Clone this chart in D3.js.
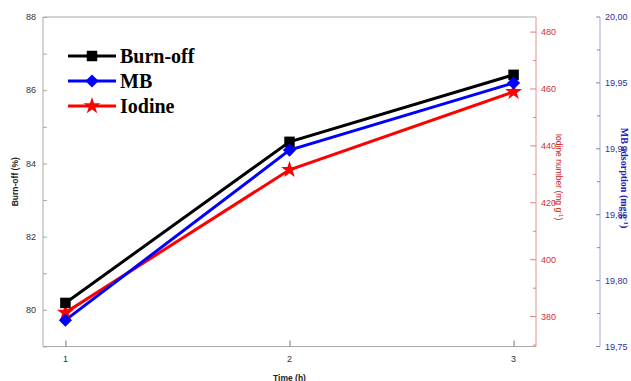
<!DOCTYPE html>
<html>
<head>
<meta charset="utf-8">
<script src="https://cdn.jsdelivr.net/npm/d3@7"></script>
<style>
  html, body { margin: 0; padding: 0; background: #fff; }
  svg { display: block; }
</style>
</head>
<body>
<svg id="chart" width="631" height="381"></svg>
<script>
// Activation time (h)
const times = [1, 2, 3];
// Burn-off (%), left axis
const burnOff = [80.19, 84.59, 86.42];
// Methylene blue adsorption (mg g-1), far right axis
const mbAdsorption = [19.770, 19.899, 19.950];
// Iodine number (mg g-1), inner right axis
const iodine = [381.4, 431.6, 459.0];

const xTicks = [1, 2, 3];
const burnTicks = [80, 82, 84, 86, 88];
const iodineTicks = [380, 400, 420, 440, 460, 480];
const mbTicks = [19.75, 19.80, 19.85, 19.90, 19.95, 20.00];

const legendNames = ["Burn-off", "MB", "Iodine"];

(function () {
const svg = d3.select("#chart");
const pLeft = 43, pRight = 536, pTop = 17, pBottom = 346.5;
const blueX = 600;

const x = d3.scaleLinear().domain([0.9, 3.1]).range([pLeft, pRight]);
const yBurn = d3.scaleLinear().domain([79, 88]).range([pBottom, pTop]);
const yIod = d3.scaleLinear().domain([369.5, 485.3]).range([pBottom, pTop]);
const yMB = d3.scaleLinear().domain([19.75, 20.0]).range([pBottom, pTop]);

const sans = "Arial, 'Liberation Sans', sans-serif";
const serif = "'Times New Roman', 'Liberation Serif', serif";

// Frame
svg.append("path")
  .attr("d", `M${pRight},${pTop}H${pLeft}V${pBottom}H${pRight}`)
  .attr("fill", "none").attr("stroke", "#a8a8a8").attr("stroke-width", 1);

// Left axis (burn-off), ticks pointing inward
const gL = svg.append("g").attr("transform", `translate(${pLeft},0)`);
gL.call(d3.axisRight(yBurn).tickValues(d3.range(79, 88.01, 1)).tickSize(4).tickFormat(""))
  .call(g => g.select(".domain").remove())
  .call(g => g.selectAll("line").attr("stroke", "#a8a8a8"));
gL.selectAll("text.lab").data(burnTicks).join("text")
  .attr("class", "lab")
  .attr("x", -7).attr("y", d => yBurn(d)).attr("dy", "0.35em")
  .attr("text-anchor", "end")
  .attr("font-family", sans).attr("font-size", 9).attr("fill", "#333")
  .text(d => d);

// Bottom axis (time), ticks pointing up
const gB = svg.append("g").attr("transform", `translate(0,${pBottom})`);
gB.call(d3.axisTop(x).tickValues(xTicks).tickSize(6).tickFormat(""))
  .call(g => g.select(".domain").remove())
  .call(g => g.selectAll("line").attr("stroke", "#777"));
gB.selectAll("text.lab").data(xTicks).join("text")
  .attr("class", "lab")
  .attr("x", d => x(d)).attr("y", 15)
  .attr("text-anchor", "middle")
  .attr("font-family", sans).attr("font-size", 9).attr("fill", "#333")
  .text(d => d);

// Iodine axis (red), on right edge of frame, ticks inward
const gR = svg.append("g").attr("transform", `translate(${pRight},0)`);
gR.append("line").attr("y1", pTop).attr("y2", pBottom).attr("stroke", "#e89090").attr("stroke-width", 1);
gR.selectAll("line.minor").data(d3.range(370, 485, 10)).join("line")
  .attr("class", "minor")
  .attr("x1", d => iodineTicks.includes(d) ? -6 : -3).attr("x2", 0)
  .attr("y1", d => yIod(d)).attr("y2", d => yIod(d))
  .attr("stroke", "#e08080");
gR.selectAll("text.lab").data(iodineTicks).join("text")
  .attr("class", "lab")
  .attr("x", 5).attr("y", d => yIod(d)).attr("dy", "0.35em")
  .attr("font-family", sans).attr("font-size", 9).attr("fill", "#d03030")
  .text(d => d);

// MB axis (blue), detached, ticks to the left
const gM = svg.append("g").attr("transform", `translate(${blueX},0)`);
gM.append("line").attr("y1", pTop).attr("y2", pBottom).attr("stroke", "#a8a8d8").attr("stroke-width", 1);
gM.selectAll("line.tk").data(d3.range(0, 11).map(i => 19.75 + i * 0.025)).join("line")
  .attr("class", "tk")
  .attr("x1", (d, i) => i % 2 === 0 ? -4 : -3).attr("x2", 0)
  .attr("y1", d => yMB(d)).attr("y2", d => yMB(d))
  .attr("stroke", "#8080c0");
gM.selectAll("text.lab").data(mbTicks).join("text")
  .attr("class", "lab")
  .attr("x", 5).attr("y", d => yMB(d)).attr("dy", "0.35em")
  .attr("font-family", sans).attr("font-size", 9).attr("fill", "#3030a0")
  .text(d => d3.format(".2f")(d).replace(".", ","));

// Axis titles
svg.append("text")
  .attr("transform", `translate(18,${(pTop + pBottom) / 2}) rotate(-90)`)
  .attr("text-anchor", "middle")
  .attr("font-family", sans).attr("font-size", 8.5).attr("font-weight", "bold").attr("fill", "#222")
  .text("Burn-off (%)");
svg.append("text")
  .attr("x", (pLeft + pRight) / 2).attr("y", 380.5)
  .attr("text-anchor", "middle")
  .attr("font-family", sans).attr("font-size", 8.5).attr("font-weight", "bold").attr("fill", "#222")
  .text("Time (h)");
const rt = svg.append("text")
  .attr("transform", `translate(556,177) rotate(90)`)
  .attr("text-anchor", "middle")
  .attr("font-family", sans).attr("font-size", 8.5).attr("fill", "#d02020");
rt.append("tspan").text("Iodine number (mg g");
rt.append("tspan").attr("dy", -3).attr("font-size", 6).text("-1");
rt.append("tspan").attr("dy", 3).text(")");
const bt = svg.append("text")
  .attr("transform", `translate(621,178) rotate(90)`)
  .attr("text-anchor", "middle")
  .attr("font-family", serif).attr("font-size", 10).attr("font-weight", "bold").attr("fill", "#2020c0");
bt.append("tspan").text("MB adsorption (mg g");
bt.append("tspan").attr("dy", -3).attr("font-size", 7).text("-1");
bt.append("tspan").attr("dy", 3).text(")");

// Marker shapes
const symSquare = d3.symbol().type(d3.symbolSquare).size(110);
const symDiamond = d3.symbol().type(d3.symbolDiamond2).size(110);
const symStar = d3.symbol().type(d3.symbolStar).size(90);

const series = [
  { name: legendNames[0], values: burnOff, y: yBurn, color: "#000000", sym: symSquare },
  { name: legendNames[1], values: mbAdsorption, y: yMB, color: "#0000ff", sym: symDiamond },
  { name: legendNames[2], values: iodine, y: yIod, color: "#ff0000", sym: symStar }
];

// Lines first, then markers on top
[series[2], series[1], series[0]].forEach(s => {
  const line = d3.line().x((d, i) => x(times[i])).y(d => s.y(d));
  svg.append("path").datum(s.values)
    .attr("d", line).attr("fill", "none")
    .attr("stroke", s.color).attr("stroke-width", 3);
});
[series[2], series[0], series[1]].forEach(s => {
  svg.selectAll(null).data(s.values).join("path")
    .attr("transform", (d, i) => `translate(${x(times[i])},${s.y(d)})`)
    .attr("d", s.sym).attr("fill", s.color);
});

// Legend
const leg = svg.append("g");
series.forEach((s, i) => {
  const ly = 56 + i * 25;
  leg.append("line").attr("x1", 68).attr("x2", 116).attr("y1", ly).attr("y2", ly)
    .attr("stroke", s.color).attr("stroke-width", 3);
  leg.append("path").attr("transform", `translate(92,${ly})`).attr("d", s.sym).attr("fill", s.color);
  leg.append("text").attr("x", 120).attr("y", ly).attr("dy", "0.35em")
    .attr("font-family", serif).attr("font-size", 20).attr("font-weight", "bold").attr("fill", "#000")
    .text(s.name);
});
})();
</script>
</body>
</html>
